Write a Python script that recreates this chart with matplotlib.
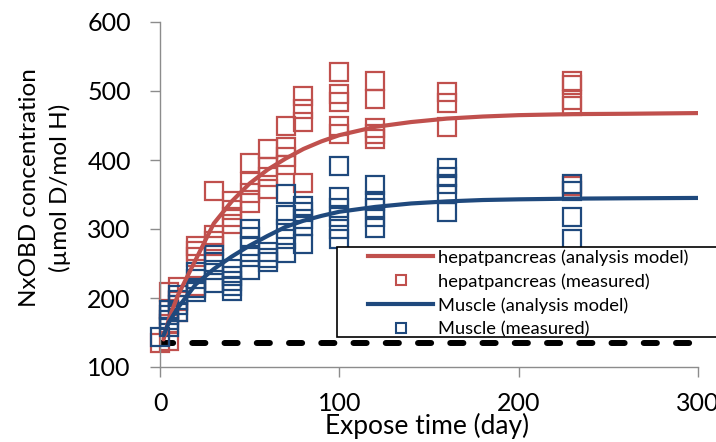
import matplotlib
matplotlib.use("Agg")
import matplotlib.pyplot as plt
from matplotlib.lines import Line2D
from matplotlib.patches import Rectangle

plt.rcParams['font.family'] = ['Lato', 'DejaVu Sans']

RED = '#C0504D'
BLUE = '#1F497D'

# Model curves
model_t = [2, 5, 10, 20, 30, 40, 50, 60, 70, 80, 90, 100, 120, 140, 160, 180, 200, 230, 260, 300]
hep_model = [140, 170, 204, 256, 308, 340, 366, 386, 402, 416, 427, 436, 448, 455, 460, 463, 465, 466.5, 467, 468]
mus_model = [146, 165, 186, 220, 242, 260, 276, 290, 303, 312, 319, 325, 332, 337, 340, 342, 343, 344, 344.5, 345]

# Measured points
hep_t = ([0] + [5]*4 + [10]*3 + [20]*4 + [30]*4 + [40]*4 + [50]*4 + [60]*4 + [70]*4
         + [80]*4 + [100]*5 + [120]*5 + [160]*3 + [230]*5)
hep_v = ([135] + [208, 184, 162, 137] + [216, 195, 180] + [275, 268, 260, 217]
         + [355, 292, 283, 275] + [340, 327, 318, 307] + [395, 368, 352, 337]
         + [416, 390, 375, 358] + [449, 419, 405, 393] + [493, 474, 455, 367]
         + [527, 496, 484, 449, 437] + [515, 489, 447, 437, 430] + [499, 483, 448]
         + [515, 508, 487, 478, 362])

mus_t = ([0] + [5]*4 + [10]*4 + [20]*4 + [30]*4 + [40]*5 + [50]*5 + [60]*3 + [70]*5
         + [80]*5 + [100]*6 + [120]*5 + [160]*5 + [230]*4)
mus_v = ([143] + [182, 175, 168, 158] + [205, 197, 190, 180] + [238, 228, 215, 208]
         + [262, 252, 240, 222] + [242, 232, 225, 218, 210] + [300, 288, 275, 260, 240]
         + [266, 258, 252] + [350, 320, 300, 285, 265] + [333, 325, 315, 305, 278]
         + [392, 346, 330, 318, 300, 285] + [364, 340, 330, 318, 302]
         + [388, 376, 365, 350, 325] + [365, 355, 317, 286])

baseline_t = [0, 300]
baseline_v = [135, 135]

x_ticks = [0, 100, 200, 300]
y_ticks = [100, 200, 300, 400, 500, 600]

labels = ['hepatpancreas (analysis model)', 'hepatpancreas (measured)',
          'Muscle (analysis model)', 'Muscle (measured)']

fig = plt.figure(figsize=(7.16, 4.42), dpi=100)
ax = fig.add_axes([160/716, 1-367/442, (698-160)/716, (367-22)/442])

ax.plot(baseline_t, baseline_v, color='black', lw=4.3, linestyle=(0, (2.2, 3.2)),
        dash_capstyle='round', zorder=1)

msz = 12.5
ax.plot(hep_t, hep_v, ls='none', marker='s', ms=msz, mfc='none', mec=RED, mew=1.6,
        clip_on=False, zorder=2)
ax.plot(mus_t, mus_v, ls='none', marker='s', ms=msz, mfc='none', mec=BLUE, mew=1.6,
        clip_on=False, zorder=3)
ax.plot(model_t, hep_model, color=RED, lw=3, zorder=4, solid_capstyle='round')
ax.plot(model_t, mus_model, color=BLUE, lw=3, zorder=5, solid_capstyle='round')

ax.set_xlim(0, 300)
ax.set_ylim(100, 600)
ax.set_xticks(x_ticks)
ax.set_yticks(y_ticks)
for s in ['top', 'right']:
    ax.spines[s].set_visible(False)
for s in ['left', 'bottom']:
    ax.spines[s].set_color('#8C8C8C')
    ax.spines[s].set_linewidth(1.0)
ax.tick_params(axis='both', colors='#8C8C8C', labelcolor='black', length=7, width=1.0,
               labelsize=18, direction='out')
ax.tick_params(axis='y', pad=14)
ax.tick_params(axis='x', pad=11)

fig.text(45/716, 1-188/442, 'NxOBD concentration\n(µmol D/mol H)', rotation=90,
         ha='center', va='center', multialignment='center', linespacing=1.45, fontsize=17.5)
fig.text(427/716, 1-413/442, 'Expose time (day)', ha='center', va='top', fontsize=19)

# legend frame
rect = Rectangle((337/716, 1-337/442), 0.6, (337-246.7)/442, transform=fig.transFigure,
                 facecolor='white', edgecolor='black', lw=1.2, zorder=1)
fig.add_artist(rect)

handles = [Line2D([], [], color=RED, lw=3),
           Line2D([], [], ls='none', marker='s', ms=7, mfc='none', mec=RED, mew=1.5),
           Line2D([], [], color=BLUE, lw=3),
           Line2D([], [], ls='none', marker='s', ms=7, mfc='none', mec=BLUE, mew=1.5)]
leg = fig.legend(handles, labels, loc='upper left', bbox_to_anchor=(368/716, 1-249/442),
                 bbox_transform=fig.transFigure, frameon=False, borderpad=0,
                 borderaxespad=0, fontsize=13.2, handlelength=3.55, handletextpad=0.27,
                 labelspacing=0.41)
leg.set_zorder(2)

fig.savefig('out.png', dpi=100)
